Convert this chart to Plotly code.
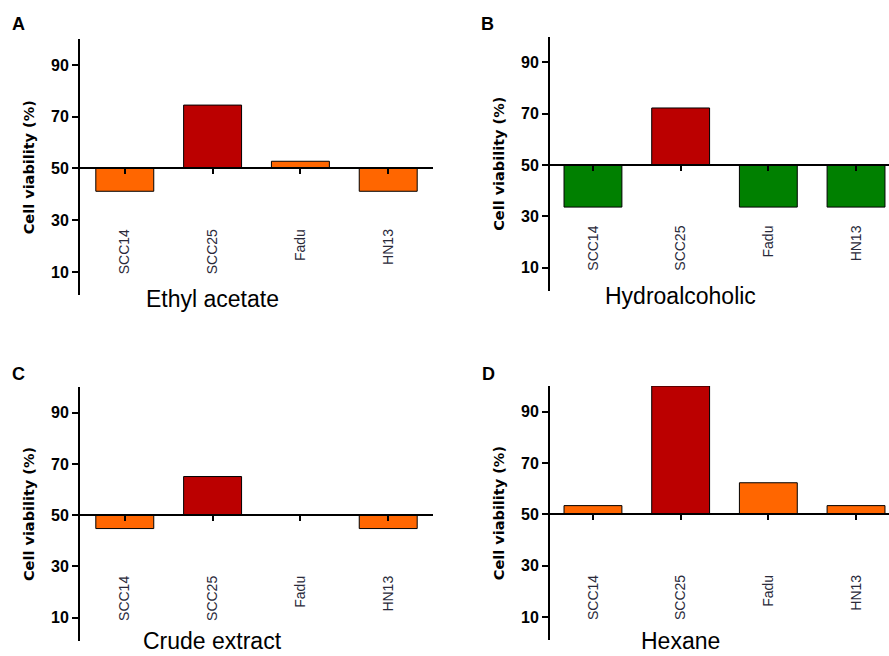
import plotly.graph_objects as go

categories = ["SCC14", "SCC25", "Fadu", "HN13"]
ethyl_acetate = [41.2, 74.5, 52.8, 41.2]
hydroalcoholic = [33.6, 72.2, 33.6, 33.6]
crude_extract = [44.8, 65.1, 50.0, 44.8]
hexane = [53.4, 100.0, 62.3, 53.4]
titles = ["Ethyl acetate", "Hydroalcoholic", "Crude extract", "Hexane"]
letters = ["A", "B", "C", "D"]
baseline = 50
yticks = [10, 30, 50, 70, 90]

ORANGE = "#FF6600"
RED = "#BB0000"
GREEN = "#008000"
colors = [
    [ORANGE, RED, ORANGE, ORANGE],
    [GREEN, RED, GREEN, GREEN],
    [ORANGE, RED, ORANGE, ORANGE],
    [ORANGE, RED, ORANGE, ORANGE],
]
series = [ethyl_acetate, hydroalcoholic, crude_extract, hexane]

W, H = 889, 656
FONT = "Liberation Sans, Arial, sans-serif"
# pixel layouts of each panel: (x0, x1, xrange, ytop_px(100), ybot_px(1))
panels = [
    (80, 433, [-0.51, 3.51], 39.1, 295.3),
    (550, 889, [-0.49, 3.376], 36.6, 290.8),
    (80, 433, [-0.51, 3.51], 387.1, 640.8),
    (550, 889, [-0.49, 3.376], 386.0, 640.1),
]
yrange = [1, 100]

fig = go.Figure()
layout = dict(
    width=W, height=H, margin=dict(l=0, r=0, t=0, b=0, autoexpand=False),
    paper_bgcolor="white", plot_bgcolor="rgba(0,0,0,0)",
    showlegend=False, barmode="overlay",
    font=dict(family=FONT, color="black"),
)
annotations = []
label_font = dict(family=FONT, size=14, color="#2a2a3a")

for i, (vals, cols) in enumerate(zip(series, colors)):
    n = "" if i == 0 else str(i + 1)
    x0, x1, xr, yt, yb = panels[i]
    xd = [x0 / W, x1 / W]
    yd = [1 - yb / H, 1 - yt / H]
    pos = yd[0] + (baseline - yrange[0]) / (yrange[1] - yrange[0]) * (yd[1] - yd[0])
    fig.add_trace(go.Bar(
        x=categories, y=[v - baseline for v in vals], base=baseline,
        width=0.66, marker=dict(color=cols, line=dict(color="black", width=1)),
        xaxis="x" + n, yaxis="y" + n,
    ))
    layout["xaxis" + n] = dict(
        domain=xd, range=xr, type="category", anchor="free", position=pos,
        showline=True, linecolor="black", linewidth=2,
        ticks="outside", ticklen=5, tickwidth=2, tickcolor="black",
        tickangle=-90, ticklabelstandoff=49, tickfont=label_font,
        showgrid=False, zeroline=False, automargin=False,
    )
    layout["yaxis" + n] = dict(
        domain=yd, range=yrange, anchor="x" + n,
        showline=True, linecolor="black", linewidth=2,
        ticks="outside", ticklen=6, tickwidth=2, tickcolor="black",
        tickvals=yticks,
        tickfont=dict(family=FONT, size=16, color="black", weight="bold"),
        title=dict(text="<b>Cell viability (%)</b>",
                   font=dict(family="DejaVu Sans, Verdana, sans-serif", size=14.5, color="black"),
                   standoff=13),
        showgrid=False, zeroline=False, automargin=False,
    )
    if i < 2:
        ty, yanc = 1 - [299, 296][i] / H, "middle"
    else:
        ty, yanc = 0, "bottom"
    annotations.append(dict(
        text=titles[i], xref="x" + n, yref="paper", x=categories[1], y=ty,
        xanchor="center", yanchor=yanc, showarrow=False,
        font=dict(family=FONT, size=23, color="black"),
    ))
    lx = [18, 487, 18, 488][i]
    ly = [24, 24, 374, 374][i]
    annotations.append(dict(
        text="<b>" + letters[i] + "</b>", xref="paper", yref="paper",
        x=lx / W, y=1 - ly / H, xanchor="center", yanchor="middle", showarrow=False,
        font=dict(family=FONT, size=18, color="black"),
    ))

layout["annotations"] = annotations
fig.update_layout(**layout)
fig.write_html("out.html", config={"displayModeBar": False},
               post_script="document.body.style.margin='0';document.body.style.overflow='hidden';")
